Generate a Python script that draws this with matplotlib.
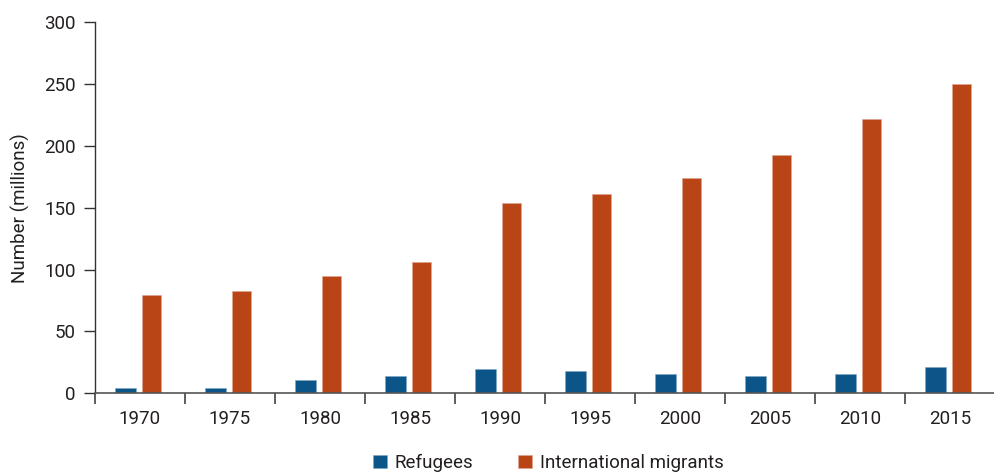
import matplotlib
matplotlib.use("Agg")
import matplotlib.pyplot as plt
import numpy as np

plt.rcParams['font.family'] = ['Roboto', 'DejaVu Sans']

years = ['1970', '1975', '1980', '1985', '1990', '1995', '2000', '2005', '2010', '2015']
refugees = [4.5, 4.5, 10.5, 14.3, 19.4, 17.8, 15.9, 14.3, 15.9, 21.5]
migrants = [79.2, 82.9, 94.8, 106.0, 153.5, 160.9, 173.7, 192.3, 221.9, 249.7]

blue = '#0b5589'
orange = '#b94517'
text_col = '#231f20'
fs = 13.5

fig = plt.figure(figsize=(9.95, 4.72), dpi=100)
ax = fig.add_axes([95 / 995, 78.7 / 472, 900 / 995, 371.3 / 472])

x = np.arange(len(years))
ax.bar(x - 0.165, refugees, width=0.235, color=blue, edgecolor='#7fa6c4',
       linewidth=0.4, label='Refugees', zorder=2)
ax.bar(x + 0.125, migrants, width=0.215, color=orange, edgecolor='#e0a58c',
       linewidth=0.4, label='International migrants', zorder=2)

ax.set_xlim(-0.5, -0.5 + 900 / 90.7)
ax.set_ylim(0, 300)
ax.set_yticks(range(0, 301, 50))

# category boundaries carry the tick marks, labels sit in the middle
ax.set_xticks(np.arange(len(years) + 1) - 0.5)
ax.set_xticklabels([])
ax.set_xticks(x, minor=True)
ax.set_xticklabels(years, minor=True)
ax.tick_params(axis='x', which='major', direction='out', length=8, width=1.1,
               color='#333333')
ax.tick_params(axis='x', which='minor', length=0, pad=12, labelsize=fs,
               labelcolor=text_col)
ax.tick_params(axis='y', direction='out', length=8, width=1.0, color='#333333',
               labelsize=fs, labelcolor=text_col, pad=6)

for s in ['top', 'right']:
    ax.spines[s].set_visible(False)
ax.spines['left'].set_color('#333333')
ax.spines['bottom'].set_color('#555555')
ax.spines['left'].set_linewidth(1.0)
ax.spines['bottom'].set_linewidth(1.2)

ax.set_ylabel('Number (millions)', fontsize=fs, color=text_col, labelpad=10)

fig.legend(loc='center', bbox_to_anchor=(548 / 995, 1 - 463 / 472), ncol=2,
           frameon=False, fontsize=fs, handlelength=0.75, handleheight=0.75,
           handletextpad=0.4, columnspacing=2.4, labelcolor=text_col)

fig.savefig('out.png', dpi=100)
